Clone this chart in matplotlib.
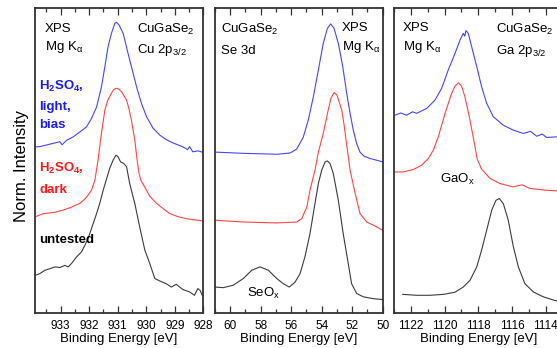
import matplotlib

matplotlib.use("Agg")
import matplotlib.pyplot as plt
from matplotlib.ticker import MultipleLocator

plt.rcParams["font.family"] = ["Liberation Sans", "DejaVu Sans"]
plt.rcParams["mathtext.fontset"] = "custom"
plt.rcParams["mathtext.rm"] = "Liberation Sans"
plt.rcParams["mathtext.it"] = "Liberation Sans"
plt.rcParams["mathtext.bf"] = "Liberation Sans:bold"

C_BLUE, C_RED, C_BLACK = "#4646ff", "#ff4646", "#3c3c3c"

# ---- Cu 2p3/2 ----
cu_ev_blue = [933.90, 933.73, 933.55, 933.38, 933.20, 933.03, 932.95, 932.79, 932.56,
              932.33, 932.09, 931.92, 931.74, 931.57, 931.45, 931.34, 931.22, 931.10,
              931.04, 930.95, 930.81, 930.64, 930.52, 930.34, 930.17, 929.99, 929.76,
              929.53, 929.30, 929.06, 928.71, 928.55, 928.48, 928.37, 928.18, 928.00]
cu_blue = [54.5, 54.6, 55.0, 55.4, 55.8, 56.2, 55.2, 56.7, 57.8,
           59.4, 61.1, 63.8, 67.6, 74.2, 80.8, 87.3, 91.7, 95.0,
           95.3, 94.4, 91.7, 85.2, 80.8, 74.2, 68.8, 64.4, 60.6,
           58.4, 56.9, 55.8, 54.5, 53.6, 54.6, 52.9, 53.2, 52.7]
cu_ev_red = [933.90, 933.62, 933.20, 932.92, 932.61, 932.33, 932.12, 931.92, 931.80,
             931.69, 931.57, 931.45, 931.35, 931.22, 931.14, 931.04, 930.96, 930.86,
             930.69, 930.61, 930.52, 930.40, 930.32, 930.26, 930.19, 930.05, 929.88,
             929.64, 929.42, 929.18, 928.90, 928.60, 928.31, 928.02]
cu_red = [31.6, 32.6, 33.1, 33.8, 34.8, 36.0, 37.7, 40.3, 43.6,
          50.2, 59.0, 66.6, 69.8, 72.1, 73.3, 73.7, 73.4, 72.5,
          69.8, 67.2, 63.3, 56.7, 50.2, 46.2, 43.6, 41.3, 38.4,
          36.0, 34.4, 32.7, 31.7, 31.0, 30.6, 30.3]
cu_ev_black = [933.87, 933.73, 933.55, 933.38, 933.20, 933.03, 932.85, 932.74, 932.62,
               932.44, 932.27, 932.15, 932.04, 931.86, 931.74, 931.63, 931.51, 931.37,
               931.28, 931.16, 931.06, 930.99, 930.90, 930.79, 930.69, 930.58, 930.40,
               930.23, 930.05, 929.88, 929.70, 929.53, 929.30, 929.12, 928.95, 928.72,
               928.48, 928.31, 928.19, 928.11, 928.04]
cu_black = [12.5, 13.0, 14.1, 14.6, 15.2, 15.0, 15.7, 15.2, 16.3,
            18.5, 20.1, 22.3, 24.5, 29.4, 32.7, 36.0, 40.3, 44.7,
            47.5, 50.2, 51.8, 51.3, 49.6, 49.1, 48.0, 42.5, 35.9,
            28.3, 20.7, 16.4, 11.4, 10.6, 9.7, 8.6, 9.5, 7.8,
            7.0, 5.9, 8.1, 7.5, 5.9]

# ---- Se 3d ----
se_ev_blue = [61.00, 59.16, 56.93, 56.08, 55.64, 55.21, 54.88, 54.55, 54.22, 53.90,
              53.63, 53.41, 53.19, 52.91, 52.62, 52.36, 52.14, 51.93, 51.71, 51.49,
              51.23, 50.83, 50.44, 50.00]
se_blue = [52.8, 52.4, 52.1, 52.5, 53.8, 57.7, 63.3, 70.9, 79.7, 88.4,
           93.3, 94.8, 93.3, 88.4, 80.8, 72.0, 65.5, 60.0, 55.6, 52.8,
           51.5, 50.7, 50.2, 49.6]
se_ev_red = [61.00, 59.14, 56.95, 55.64, 55.31, 54.98, 54.77, 54.44, 54.22, 53.90,
             53.57, 53.39, 53.19, 53.00, 52.69, 52.54, 52.36, 52.26, 52.14, 51.82,
             51.49, 51.05, 50.62, 50.00]
se_red = [30.5, 29.9, 29.6, 29.9, 31.0, 34.8, 40.3, 46.9, 52.8, 58.9,
          66.6, 70.5, 72.3, 71.5, 66.6, 62.0, 55.1, 51.5, 46.9, 39.6,
          32.7, 29.9, 28.9, 27.2]
se_ev_black = [61.00, 60.46, 59.80, 59.14, 58.59, 58.05, 57.50, 56.95, 56.52, 56.13,
               55.75, 55.42, 55.10, 54.77, 54.44, 54.22, 54.00, 53.78, 53.63, 53.46,
               53.24, 52.91, 52.59, 52.26, 52.04, 51.71, 51.27, 50.62, 50.00]
se_black = [8.6, 8.4, 9.2, 11.4, 14.1, 15.2, 14.1, 11.4, 9.7, 8.6,
            10.2, 13.0, 18.5, 26.1, 36.0, 42.5, 46.9, 49.6, 49.9, 49.1,
            45.8, 37.0, 26.1, 16.3, 9.7, 6.5, 5.4, 4.8, 4.5]

# ---- Ga 2p3/2 ----
ga_ev_blue = [1122.94, 1122.60, 1122.25, 1121.90, 1121.65, 1121.06, 1120.57, 1120.17,
              1119.78, 1119.38, 1119.08, 1118.89, 1118.80, 1118.73, 1118.59, 1118.39,
              1118.09, 1117.80, 1117.50, 1117.11, 1116.51, 1115.92, 1115.33, 1114.90,
              1114.53, 1114.20, 1113.94, 1113.34]
ga_blue = [64.9, 65.6, 64.9, 66.0, 65.5, 67.1, 69.8, 73.7,
           79.7, 85.1, 89.5, 91.7, 90.8, 92.6, 91.7, 87.3,
           80.8, 74.2, 68.8, 64.4, 61.6, 60.0, 58.9, 59.6,
           58.0, 58.7, 57.6, 57.8]
ga_ev_red = [1122.94, 1122.45, 1121.85, 1121.36, 1120.96, 1120.67, 1120.37, 1119.97,
             1119.58, 1119.38, 1119.18, 1118.99, 1118.79, 1118.49, 1118.20, 1118.06,
             1117.80, 1117.30, 1116.71, 1115.92, 1115.40, 1114.93, 1113.94, 1113.34]
ga_red = [46.3, 46.3, 47.1, 48.5, 50.7, 53.4, 57.8, 65.5,
          72.0, 74.4, 75.5, 74.4, 70.9, 63.3, 54.8, 50.5,
          47.2, 44.2, 42.5, 41.4, 42.1, 40.9, 40.3, 40.1]
ga_ev_black = [1122.48, 1121.65, 1120.86, 1120.07, 1119.38, 1118.89, 1118.49, 1118.09,
               1117.80, 1117.50, 1117.20, 1116.95, 1116.75, 1116.51, 1116.22, 1115.92,
               1115.62, 1115.23, 1114.73, 1114.14, 1113.34]
ga_black = [6.2, 5.9, 5.9, 6.2, 6.9, 8.6, 10.8, 15.2,
            20.7, 27.2, 33.8, 37.0, 37.6, 35.9, 30.5, 21.9,
            15.2, 9.7, 7.0, 5.4, 4.0]

W, H = 557, 348


def px_rect(x0, y0, w, h):
    return [x0 / W, 1 - (y0 + h) / H, w / W, h / H]


def ftext(fig, x, y, s, **kw):
    fig.text(x / W, 1 - y / H, s, **kw)


fig = plt.figure(figsize=(W / 100, H / 100), dpi=100)

panels = [
    (px_rect(35, 8, 168.3, 305.3), (933.9, 928.0), 1, 0.5,
     (cu_ev_blue, cu_blue), (cu_ev_red, cu_red), (cu_ev_black, cu_black)),
    (px_rect(215, 8, 167.7, 305.3), (61.0, 50.0), 2, 1,
     (se_ev_blue, se_blue), (se_ev_red, se_red), (se_ev_black, se_black)),
    (px_rect(394, 8, 168.5, 305.3), (1123.0, 1113.0), 2, 1,
     (ga_ev_blue, ga_blue), (ga_ev_red, ga_red), (ga_ev_black, ga_black)),
]
for rect, xlim, major, minor, blue, red, black in panels:
    ax = fig.add_axes(rect)
    ax.plot(*blue, color=C_BLUE, lw=0.8)
    ax.plot(*red, color=C_RED, lw=0.8)
    ax.plot(*black, color=C_BLACK, lw=0.8)
    ax.set_xlim(*xlim)
    ax.set_ylim(0, 100)
    ax.set_yticks([])
    ax.xaxis.set_major_locator(MultipleLocator(major))
    ax.xaxis.set_minor_locator(MultipleLocator(minor))
    ax.tick_params(axis="x", which="both", direction="in", top=True,
                   labelsize=8.5, pad=4.5, color="#333333")
    ax.tick_params(axis="x", which="major", length=5, width=0.9)
    ax.tick_params(axis="x", which="minor", length=3, width=0.9)
    for sp in ax.spines.values():
        sp.set_linewidth(1.3)
        sp.set_color("#333333")
    ax.set_xlabel("Binding Energy [eV]", fontsize=9.5, labelpad=1)

fs = 9.5
# panel 1
ftext(fig, 45, 32, "XPS", fontsize=fs)
ftext(fig, 45, 50, r"Mg K$_\alpha$", fontsize=fs)
ftext(fig, 137, 33, r"CuGaSe$_2$", fontsize=fs)
ftext(fig, 137, 53, r"Cu 2p$_{3/2}$", fontsize=fs)
ftext(fig, 39, 90, r"H$_\mathbf{2}$SO$_\mathbf{4}$,", fontsize=fs, color="#1a1aff", fontweight="bold")
ftext(fig, 39, 110, "light,", fontsize=fs, color="#1a1aff", fontweight="bold")
ftext(fig, 39, 128, "bias", fontsize=fs, color="#1a1aff", fontweight="bold")
ftext(fig, 39, 172, r"H$_\mathbf{2}$SO$_\mathbf{4}$,", fontsize=fs, color="#ff1a1a", fontweight="bold")
ftext(fig, 39, 193, "dark", fontsize=fs, color="#ff1a1a", fontweight="bold")
ftext(fig, 39, 243, "untested", fontsize=fs, color="black", fontweight="bold")
# panel 2
ftext(fig, 221, 33, r"CuGaSe$_2$", fontsize=fs)
ftext(fig, 221, 54, "Se 3d", fontsize=fs)
ftext(fig, 342, 31, "XPS", fontsize=fs)
ftext(fig, 342, 50, r"Mg K$_\alpha$", fontsize=fs)
ftext(fig, 247, 297, r"SeO$_x$", fontsize=fs)
# panel 3
ftext(fig, 403, 31, "XPS", fontsize=fs)
ftext(fig, 403, 50, r"Mg K$_\alpha$", fontsize=fs)
ftext(fig, 496, 33, r"CuGaSe$_2$", fontsize=fs)
ftext(fig, 496, 54, r"Ga 2p$_{3/2}$", fontsize=fs)
ftext(fig, 440, 183, r"GaO$_x$", fontsize=fs)

ftext(fig, 21.5, 166, "Norm. Intensity", fontsize=12, rotation=90,
      ha="center", va="center")

fig.savefig("out.png", dpi=100)
